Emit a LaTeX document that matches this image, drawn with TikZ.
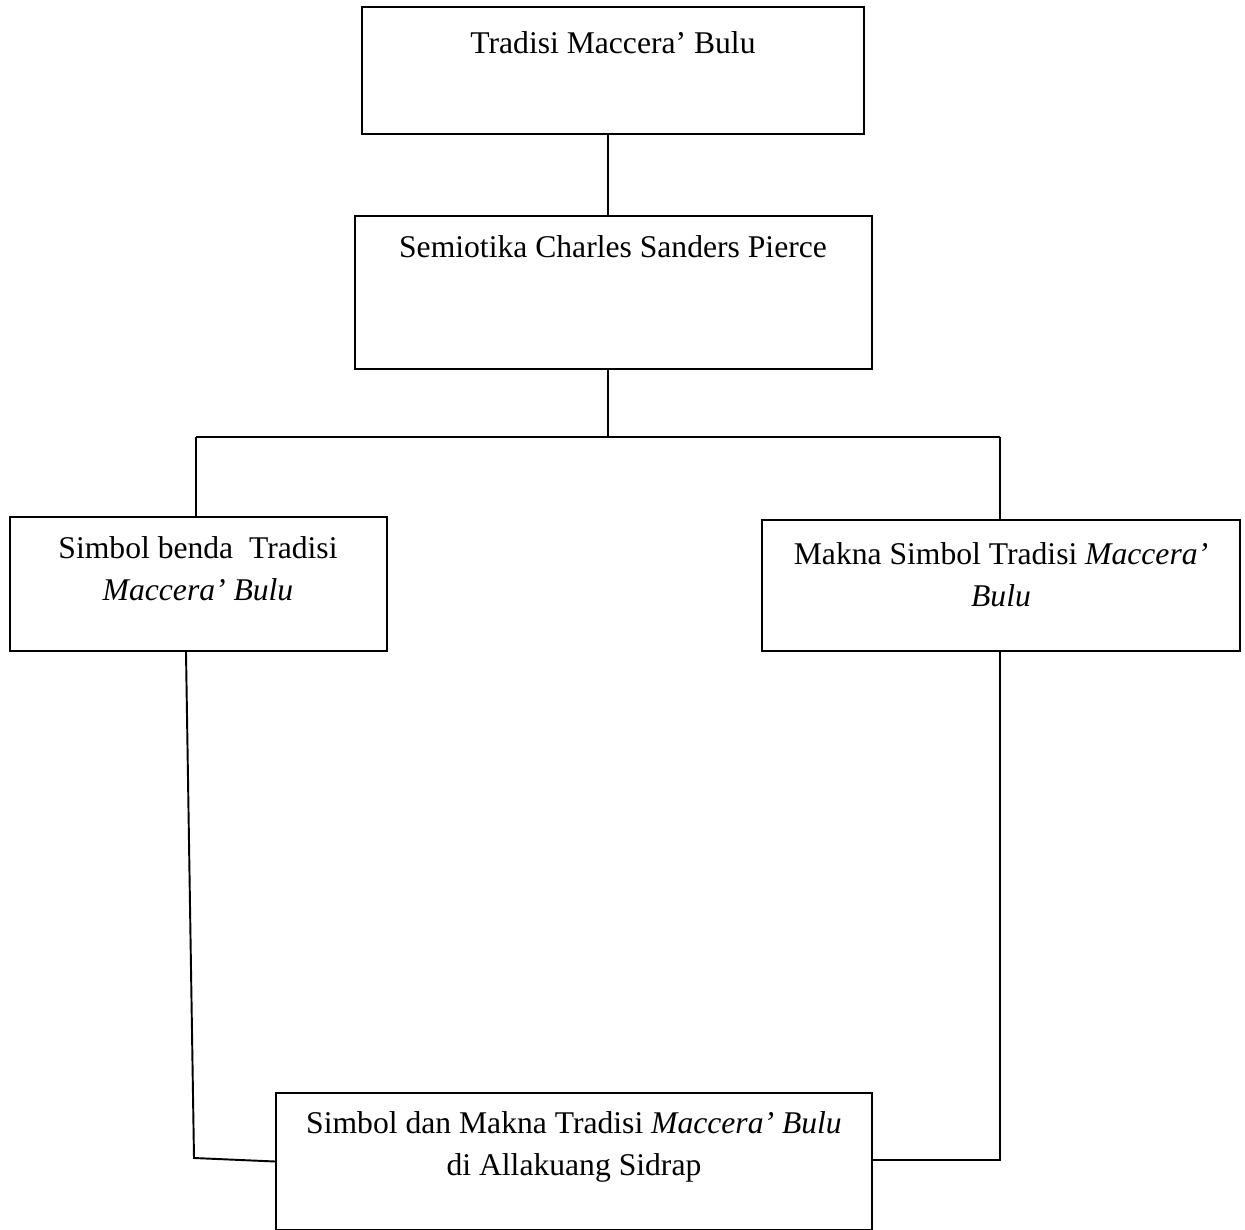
\documentclass[tikz,border=0pt]{standalone}
\usepackage{fontspec}
\setmainfont{Liberation Serif}
\begin{document}
\begin{tikzpicture}[x=0.02cm,y=-0.02cm,
  boxs/.style={draw, line width=1.1pt, rectangle, inner sep=0pt},
  txt/.style={inner sep=0pt, anchor=north, align=center, font=\fontsize{18}{24}\selectfont},
  conn/.style={line width=1.1pt}]
\useasboundingbox (0,0) rectangle (1245,1230);
\fill[white] (0,0) rectangle (1245,1230);
% boxes
\node[boxs, minimum width=10.04cm, minimum height=2.54cm] (b1) at (613,70.5) {};
\node[boxs, minimum width=10.34cm, minimum height=3.06cm] (b2) at (613.5,292.5) {};
\node[boxs, minimum width=7.54cm, minimum height=2.68cm] (b3) at (198.5,584) {};
\node[boxs, minimum width=9.56cm, minimum height=2.62cm] (b4) at (1001,585.5) {};
\node[boxs, minimum width=11.92cm, minimum height=2.74cm] (b5) at (574,1161.5) {};
% texts
\node[txt] (t1) at (613,31) {Tradisi Maccera’ Bulu};
\node[txt] (t2) at (613,235) {Semiotika Charles Sanders Pierce};
\node[txt] (t3) at (198,536) {Simbol benda\ \ Tradisi\\\textit{Maccera’ Bulu}};
\node[txt] (t4) at (1001,542) {Makna Simbol Tradisi \textit{Maccera’}\\\textit{Bulu}};
\node[txt] (t5) at (574,1111) {Simbol dan Makna Tradisi \textit{Maccera’ Bulu}\\di Allakuang Sidrap};
% junction coordinates
\coordinate (j) at (608,437);
\coordinate (jl) at (196,437);
\coordinate (jr) at (1000,437);
\coordinate (ls) at (186,651);
\coordinate (lc) at (194,1158);
\coordinate (rc) at (1000,1160);
% connectors
\draw[conn] (b1.south -| j) -- (b2.north -| j);
\draw[conn] (b2.south -| j) -- (j);
\draw[conn] (jl) -- (jr);
\draw[conn] (jl) -- (b3.north -| jl);
\draw[conn] (jr) -- (b4.north -| jr);
\draw[conn] (b3.south -| ls) -- (lc) -- (b5.west);
\draw[conn] (b4.south -| rc) -- (rc) -- (b5.east |- rc);
\end{tikzpicture}
\end{document}
